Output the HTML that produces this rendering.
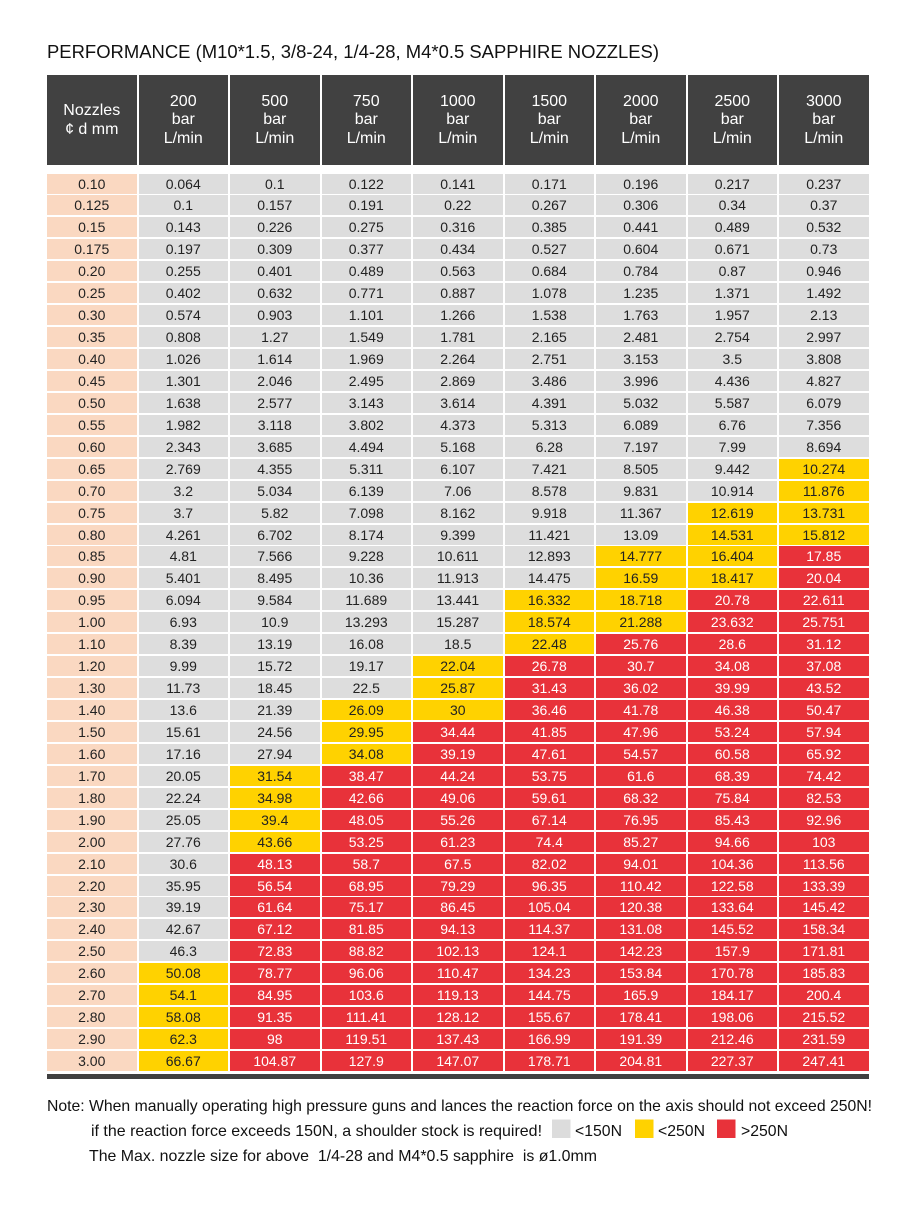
<!DOCTYPE html>
<html>
<head>
<meta charset="utf-8">
<style>
html,body{margin:0;padding:0;background:#fff;}
body{width:900px;height:1217px;position:relative;overflow:hidden;font-family:"Liberation Sans",sans-serif;}
.hd{position:absolute;left:47px;top:75px;display:grid;grid-template-columns:repeat(9,89.5px);column-gap:2px;}
.hd div{background:#414141;color:#fff;height:90px;display:flex;align-items:center;justify-content:center;text-align:center;font-size:16px;line-height:18.4px;padding-top:1px;box-sizing:border-box;}
.g{position:absolute;left:47px;top:173.5px;display:grid;grid-template-columns:repeat(9,89.5px);grid-auto-rows:20px;column-gap:2px;row-gap:1.95px;}
.g b{font-weight:normal;background:#dddddd;color:#222;font-size:14px;line-height:20px;text-align:center;display:block;}
.g b.p{background:#fad8c1;}
.g b.y{background:#ffd200;}
.g b.r{background:#e8323a;color:#fff;}
.bar{position:absolute;left:47px;top:1074px;width:821.5px;height:5px;background:#404040;}
svg{position:absolute;left:0;top:0;}
</style>
</head>
<body>
<svg width="900" height="1217" xmlns="http://www.w3.org/2000/svg">
<text x="47" y="58" font-family="Liberation Sans, sans-serif" font-size="18" fill="#111" textLength="612" lengthAdjust="spacingAndGlyphs">PERFORMANCE (M10*1.5, 3/8-24, 1/4-28, M4*0.5 SAPPHIRE NOZZLES)</text>
<text x="47" y="1111" font-family="Liberation Sans, sans-serif" font-size="16" fill="#111" textLength="825" lengthAdjust="spacingAndGlyphs">Note: When manually operating high pressure guns and lances the reaction force on the axis should not exceed 250N!</text>
<text x="91" y="1136" font-family="Liberation Sans, sans-serif" font-size="16" fill="#111" textLength="451" lengthAdjust="spacingAndGlyphs">if the reaction force exceeds 150N, a shoulder stock is required!</text>
<rect x="552" y="1119.5" width="18.5" height="18.5" fill="#dcdcdc"/>
<text x="575" y="1136" font-family="Liberation Sans, sans-serif" font-size="16" fill="#111" textLength="47" lengthAdjust="spacingAndGlyphs">&lt;150N</text>
<rect x="635" y="1119.5" width="18.5" height="18.5" fill="#ffd200"/>
<text x="658" y="1136" font-family="Liberation Sans, sans-serif" font-size="16" fill="#111" textLength="47" lengthAdjust="spacingAndGlyphs">&lt;250N</text>
<rect x="717" y="1119.5" width="18.5" height="18.5" fill="#e8323a"/>
<text x="741" y="1136" font-family="Liberation Sans, sans-serif" font-size="16" fill="#111" textLength="47" lengthAdjust="spacingAndGlyphs">&gt;250N</text>
<text x="89" y="1161" font-family="Liberation Sans, sans-serif" font-size="16" fill="#111" textLength="508" lengthAdjust="spacingAndGlyphs" xml:space="preserve">The Max. nozzle size for above  1/4-28 and M4*0.5 sapphire  is ø1.0mm</text>
</svg>

<div class="hd">
<div>Nozzles<br>¢ d mm</div>
<div>200<br>bar<br>L/min</div>
<div>500<br>bar<br>L/min</div>
<div>750<br>bar<br>L/min</div>
<div>1000<br>bar<br>L/min</div>
<div>1500<br>bar<br>L/min</div>
<div>2000<br>bar<br>L/min</div>
<div>2500<br>bar<br>L/min</div>
<div>3000<br>bar<br>L/min</div>
</div>

<div class="g">
<b class="p">0.10</b><b>0.064</b><b>0.1</b><b>0.122</b><b>0.141</b><b>0.171</b><b>0.196</b><b>0.217</b><b>0.237</b>
<b class="p">0.125</b><b>0.1</b><b>0.157</b><b>0.191</b><b>0.22</b><b>0.267</b><b>0.306</b><b>0.34</b><b>0.37</b>
<b class="p">0.15</b><b>0.143</b><b>0.226</b><b>0.275</b><b>0.316</b><b>0.385</b><b>0.441</b><b>0.489</b><b>0.532</b>
<b class="p">0.175</b><b>0.197</b><b>0.309</b><b>0.377</b><b>0.434</b><b>0.527</b><b>0.604</b><b>0.671</b><b>0.73</b>
<b class="p">0.20</b><b>0.255</b><b>0.401</b><b>0.489</b><b>0.563</b><b>0.684</b><b>0.784</b><b>0.87</b><b>0.946</b>
<b class="p">0.25</b><b>0.402</b><b>0.632</b><b>0.771</b><b>0.887</b><b>1.078</b><b>1.235</b><b>1.371</b><b>1.492</b>
<b class="p">0.30</b><b>0.574</b><b>0.903</b><b>1.101</b><b>1.266</b><b>1.538</b><b>1.763</b><b>1.957</b><b>2.13</b>
<b class="p">0.35</b><b>0.808</b><b>1.27</b><b>1.549</b><b>1.781</b><b>2.165</b><b>2.481</b><b>2.754</b><b>2.997</b>
<b class="p">0.40</b><b>1.026</b><b>1.614</b><b>1.969</b><b>2.264</b><b>2.751</b><b>3.153</b><b>3.5</b><b>3.808</b>
<b class="p">0.45</b><b>1.301</b><b>2.046</b><b>2.495</b><b>2.869</b><b>3.486</b><b>3.996</b><b>4.436</b><b>4.827</b>
<b class="p">0.50</b><b>1.638</b><b>2.577</b><b>3.143</b><b>3.614</b><b>4.391</b><b>5.032</b><b>5.587</b><b>6.079</b>
<b class="p">0.55</b><b>1.982</b><b>3.118</b><b>3.802</b><b>4.373</b><b>5.313</b><b>6.089</b><b>6.76</b><b>7.356</b>
<b class="p">0.60</b><b>2.343</b><b>3.685</b><b>4.494</b><b>5.168</b><b>6.28</b><b>7.197</b><b>7.99</b><b>8.694</b>
<b class="p">0.65</b><b>2.769</b><b>4.355</b><b>5.311</b><b>6.107</b><b>7.421</b><b>8.505</b><b>9.442</b><b class="y">10.274</b>
<b class="p">0.70</b><b>3.2</b><b>5.034</b><b>6.139</b><b>7.06</b><b>8.578</b><b>9.831</b><b>10.914</b><b class="y">11.876</b>
<b class="p">0.75</b><b>3.7</b><b>5.82</b><b>7.098</b><b>8.162</b><b>9.918</b><b>11.367</b><b class="y">12.619</b><b class="y">13.731</b>
<b class="p">0.80</b><b>4.261</b><b>6.702</b><b>8.174</b><b>9.399</b><b>11.421</b><b>13.09</b><b class="y">14.531</b><b class="y">15.812</b>
<b class="p">0.85</b><b>4.81</b><b>7.566</b><b>9.228</b><b>10.611</b><b>12.893</b><b class="y">14.777</b><b class="y">16.404</b><b class="r">17.85</b>
<b class="p">0.90</b><b>5.401</b><b>8.495</b><b>10.36</b><b>11.913</b><b>14.475</b><b class="y">16.59</b><b class="y">18.417</b><b class="r">20.04</b>
<b class="p">0.95</b><b>6.094</b><b>9.584</b><b>11.689</b><b>13.441</b><b class="y">16.332</b><b class="y">18.718</b><b class="r">20.78</b><b class="r">22.611</b>
<b class="p">1.00</b><b>6.93</b><b>10.9</b><b>13.293</b><b>15.287</b><b class="y">18.574</b><b class="y">21.288</b><b class="r">23.632</b><b class="r">25.751</b>
<b class="p">1.10</b><b>8.39</b><b>13.19</b><b>16.08</b><b>18.5</b><b class="y">22.48</b><b class="r">25.76</b><b class="r">28.6</b><b class="r">31.12</b>
<b class="p">1.20</b><b>9.99</b><b>15.72</b><b>19.17</b><b class="y">22.04</b><b class="r">26.78</b><b class="r">30.7</b><b class="r">34.08</b><b class="r">37.08</b>
<b class="p">1.30</b><b>11.73</b><b>18.45</b><b>22.5</b><b class="y">25.87</b><b class="r">31.43</b><b class="r">36.02</b><b class="r">39.99</b><b class="r">43.52</b>
<b class="p">1.40</b><b>13.6</b><b>21.39</b><b class="y">26.09</b><b class="y">30</b><b class="r">36.46</b><b class="r">41.78</b><b class="r">46.38</b><b class="r">50.47</b>
<b class="p">1.50</b><b>15.61</b><b>24.56</b><b class="y">29.95</b><b class="r">34.44</b><b class="r">41.85</b><b class="r">47.96</b><b class="r">53.24</b><b class="r">57.94</b>
<b class="p">1.60</b><b>17.16</b><b>27.94</b><b class="y">34.08</b><b class="r">39.19</b><b class="r">47.61</b><b class="r">54.57</b><b class="r">60.58</b><b class="r">65.92</b>
<b class="p">1.70</b><b>20.05</b><b class="y">31.54</b><b class="r">38.47</b><b class="r">44.24</b><b class="r">53.75</b><b class="r">61.6</b><b class="r">68.39</b><b class="r">74.42</b>
<b class="p">1.80</b><b>22.24</b><b class="y">34.98</b><b class="r">42.66</b><b class="r">49.06</b><b class="r">59.61</b><b class="r">68.32</b><b class="r">75.84</b><b class="r">82.53</b>
<b class="p">1.90</b><b>25.05</b><b class="y">39.4</b><b class="r">48.05</b><b class="r">55.26</b><b class="r">67.14</b><b class="r">76.95</b><b class="r">85.43</b><b class="r">92.96</b>
<b class="p">2.00</b><b>27.76</b><b class="y">43.66</b><b class="r">53.25</b><b class="r">61.23</b><b class="r">74.4</b><b class="r">85.27</b><b class="r">94.66</b><b class="r">103</b>
<b class="p">2.10</b><b>30.6</b><b class="r">48.13</b><b class="r">58.7</b><b class="r">67.5</b><b class="r">82.02</b><b class="r">94.01</b><b class="r">104.36</b><b class="r">113.56</b>
<b class="p">2.20</b><b>35.95</b><b class="r">56.54</b><b class="r">68.95</b><b class="r">79.29</b><b class="r">96.35</b><b class="r">110.42</b><b class="r">122.58</b><b class="r">133.39</b>
<b class="p">2.30</b><b>39.19</b><b class="r">61.64</b><b class="r">75.17</b><b class="r">86.45</b><b class="r">105.04</b><b class="r">120.38</b><b class="r">133.64</b><b class="r">145.42</b>
<b class="p">2.40</b><b>42.67</b><b class="r">67.12</b><b class="r">81.85</b><b class="r">94.13</b><b class="r">114.37</b><b class="r">131.08</b><b class="r">145.52</b><b class="r">158.34</b>
<b class="p">2.50</b><b>46.3</b><b class="r">72.83</b><b class="r">88.82</b><b class="r">102.13</b><b class="r">124.1</b><b class="r">142.23</b><b class="r">157.9</b><b class="r">171.81</b>
<b class="p">2.60</b><b class="y">50.08</b><b class="r">78.77</b><b class="r">96.06</b><b class="r">110.47</b><b class="r">134.23</b><b class="r">153.84</b><b class="r">170.78</b><b class="r">185.83</b>
<b class="p">2.70</b><b class="y">54.1</b><b class="r">84.95</b><b class="r">103.6</b><b class="r">119.13</b><b class="r">144.75</b><b class="r">165.9</b><b class="r">184.17</b><b class="r">200.4</b>
<b class="p">2.80</b><b class="y">58.08</b><b class="r">91.35</b><b class="r">111.41</b><b class="r">128.12</b><b class="r">155.67</b><b class="r">178.41</b><b class="r">198.06</b><b class="r">215.52</b>
<b class="p">2.90</b><b class="y">62.3</b><b class="r">98</b><b class="r">119.51</b><b class="r">137.43</b><b class="r">166.99</b><b class="r">191.39</b><b class="r">212.46</b><b class="r">231.59</b>
<b class="p">3.00</b><b class="y">66.67</b><b class="r">104.87</b><b class="r">127.9</b><b class="r">147.07</b><b class="r">178.71</b><b class="r">204.81</b><b class="r">227.37</b><b class="r">247.41</b>
</div>
<div class="bar"></div>
</body>
</html>
